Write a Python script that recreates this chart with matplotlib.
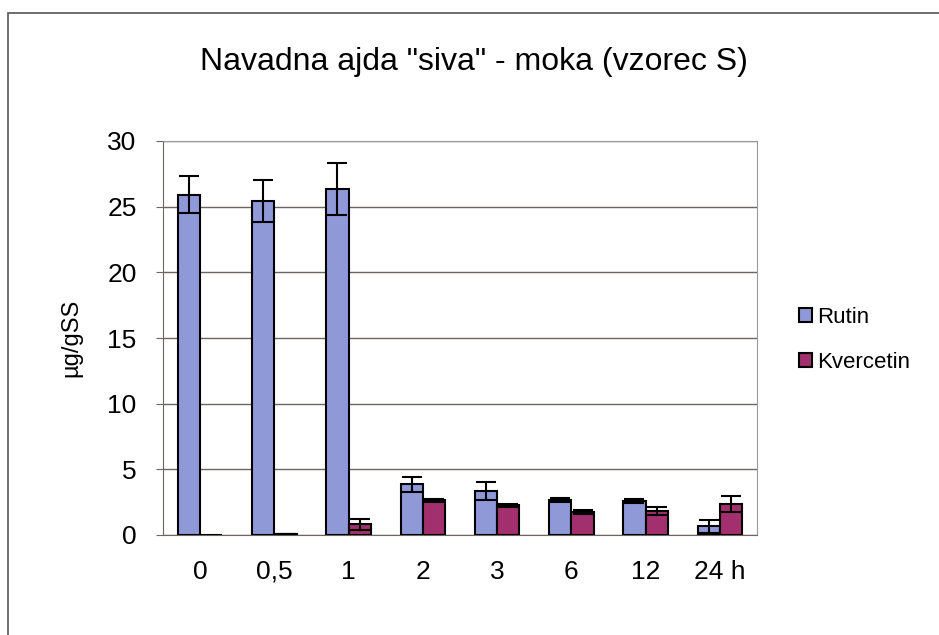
import matplotlib.pyplot as plt
import numpy as np
from matplotlib.patches import Rectangle

categories = ['0', '0,5', '1', '2', '3', '6', '12', '24 h']
rutin = [25.9, 25.4, 26.35, 3.85, 3.35, 2.7, 2.6, 0.65]
rutin_err = [1.4, 1.6, 2.0, 0.55, 0.65, 0.15, 0.15, 0.5]
kvercetin = [0.0, 0.08, 0.8, 2.65, 2.25, 1.75, 1.85, 2.35]
kvercetin_err = [0.0, 0.0, 0.4, 0.12, 0.12, 0.15, 0.3, 0.6]

plt.rcParams['font.family'] = ['Liberation Sans', 'DejaVu Sans']

fig = plt.figure(figsize=(9.39, 6.35), dpi=100)
fig.patches.append(Rectangle((8 / 939, -0.01), 1.0, 1 - 13 / 635 + 0.01,
                             transform=fig.transFigure, fill=False,
                             edgecolor='#555555', linewidth=1.2))

ax = fig.add_axes([163 / 939, 1 - 535 / 635, (757 - 163) / 939, (535 - 141) / 635])

x = np.arange(len(categories))
w = 0.3
ax.bar(x - w / 2, rutin, w, color='#8F99D8', edgecolor='black', linewidth=1.5,
       label='Rutin', zorder=3)
ax.bar(x + w / 2, kvercetin, w, color='#A2306E', edgecolor='black', linewidth=1.5,
       label='Kvercetin', zorder=3)
ax.errorbar(x - w / 2, rutin, yerr=rutin_err, fmt='none', ecolor='black',
            elinewidth=1.5, capsize=7, capthick=1.5, zorder=4)
ax.errorbar(x[1:] + w / 2, kvercetin[1:], yerr=kvercetin_err[1:], fmt='none',
            ecolor='black', elinewidth=1.5, capsize=7, capthick=1.5, zorder=4)

ax.set_xlim(-0.5, len(categories) - 0.5)
ax.set_ylim(0, 30)
ax.set_yticks(range(0, 31, 5))
ax.yaxis.grid(True, color='#6e6560', linewidth=1.0, zorder=0)
ax.set_xticks(x)
ax.set_xticklabels(categories)
ax.tick_params(axis='x', length=0, labelsize=19, pad=18)
ax.tick_params(axis='y', length=5, labelsize=19, color='#6e6560', pad=14)
for s in ['top', 'right']:
    ax.spines[s].set_color('#999999')
for s in ['left', 'bottom']:
    ax.spines[s].set_color('#6e6560')
ax.set_ylabel('µg/gSS', fontsize=17, labelpad=18)

fig.text(0.505, 1 - 62 / 635, 'Navadna ajda "siva" - moka (vzorec S)',
         ha='center', va='center', fontsize=23)

ax.legend(loc='center left', bbox_to_anchor=(1.055, 0.495), frameon=False,
          fontsize=16, handlelength=0.6, handleheight=0.6, handletextpad=0.25,
          labelspacing=1.1, borderaxespad=0)

fig.savefig('out.png', dpi=100)
